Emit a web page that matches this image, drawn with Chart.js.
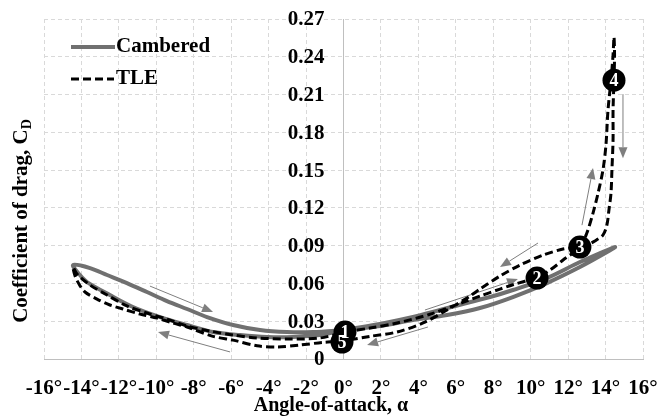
<!DOCTYPE html>
<html>
<head>
<meta charset="utf-8">
<script src="https://cdn.jsdelivr.net/npm/chart.js@4.4.1/dist/chart.umd.min.js"></script>
<style>
  html, body { margin: 0; padding: 0; background: #fff; }
</style>
</head>
<body>
<canvas id="chart" width="659" height="417"></canvas>
<script>
// axis ticks
const xTicks = [-16, -14, -12, -10, -8, -6, -4, -2, 0, 2, 4, 6, 8, 10, 12, 14, 16];
const yTicks = [0, 0.03, 0.06, 0.09, 0.12, 0.15, 0.18, 0.21, 0.24, 0.27];

// Cambered loop: 0 -> +14.5 -> 0 -> -14.5 -> 0
const camberedAlpha = [0.08, 1.95, 3.71, 5.53, 7.29, 9.05, 10.87, 12.63, 14.08, 14.5,
  12.63, 10.87, 9.05, 7.83, 6.38, 5.15, 3.71, 1.95, 0.08,
  -1.28, -2.70, -4.09, -5.53, -6.97, -8.36, -9.80, -11.25, -12.48, -13.70, -14.08, -14.45,
  -13.54, -12.63, -11.57, -10.50, -9.43, -8.36, -7.29, -5.90, -4.46, -3.02, -1.63, 0.08];
const camberedCd = [0.023, 0.0262, 0.031, 0.0349, 0.0405, 0.0492, 0.0603, 0.073, 0.0849, 0.0889,
  0.077, 0.0643, 0.0548, 0.0492, 0.0437, 0.0389, 0.0333, 0.0278, 0.023,
  0.019, 0.0175, 0.0175, 0.019, 0.0214, 0.027, 0.0333, 0.0413, 0.0508, 0.0611, 0.0667, 0.0746,
  0.0722, 0.0667, 0.0603, 0.0532, 0.046, 0.0397, 0.0333, 0.027, 0.023, 0.0214, 0.0214, 0.023];

// TLE loop, same order
const tleAlpha = [0.08, 1.42, 2.86, 4.62, 6.38, 7.29, 8.36, 9.05, 10.34, 11.03, 11.73, 12.63,
  13.0, 13.33, 13.6, 13.86, 14.02, 14.13, 14.29, 14.4, 14.45,
  14.48, 14.45, 14.4, 14.4, 14.34, 14.29, 14.18, 14.07, 13.86, 13.43, 13.0, 12.63,
  11.73, 10.66, 9.43, 8.36, 7.29, 6.76, 5.53, 4.25, 2.86, 1.42, -0.08,
  -1.10, -2.32, -3.55, -4.62, -5.90, -6.97, -8.36, -9.11, -9.96, -10.87, -11.78, -12.48, -13.17, -13.81, -14.13, -14.34, -14.45,
  -14.24, -13.54, -12.63, -11.57, -10.50, -9.43, -8.36, -7.13, -5.90, -4.62, -2.86, -1.26, 0.08];
const tleCd = [0.0214, 0.0246, 0.0286, 0.0355, 0.045, 0.050, 0.0555, 0.059, 0.0648, 0.0706, 0.0786, 0.0889,
  0.1, 0.1159, 0.1317, 0.15, 0.1698, 0.1976, 0.2214, 0.2413, 0.2556,
  0.2413, 0.2214, 0.1976, 0.1738, 0.15, 0.1317, 0.1183, 0.1063, 0.0984, 0.0937, 0.0905, 0.0889,
  0.0873, 0.0825, 0.0746, 0.0659, 0.0556, 0.050, 0.0389, 0.0286, 0.0214, 0.018, 0.0143,
  0.0132, 0.0111, 0.0095, 0.0105, 0.015, 0.018, 0.0254, 0.0286, 0.0325, 0.0357, 0.0397, 0.0429, 0.0476, 0.0532, 0.0595, 0.0659, 0.073,
  0.0675, 0.0587, 0.0508, 0.0421, 0.0365, 0.0317, 0.0262, 0.0222, 0.019, 0.0167, 0.0159, 0.0167, 0.0214];

// numbered stations
const stationAlpha = [0.08, 10.34, 12.63, 14.45, -0.08];
const stationCd = [0.0214, 0.0643, 0.0889, 0.2214, 0.0135];
const stationLabels = ['1', '2', '3', '4', '5'];

// direction arrows (tail -> head)
const arrowTailAlpha = [-10.34, -6.06, 4.35, 4.51, 10.39, 12.74, 14.93];
const arrowTailCd = [0.0579, 0.0056, 0.0389, 0.0254, 0.0921, 0.1063, 0.2103];
const arrowHeadAlpha = [-6.97, -9.91, 9.32, 1.26, 8.36, 13.33, 14.93];
const arrowHeadCd = [0.0373, 0.0214, 0.0635, 0.0111, 0.073, 0.1516, 0.1595];

const SERIF = "'Liberation Serif', 'Times New Roman', serif";
const GRAY = '#707070';

const toPoints = (xs, ys) => xs.map((x, i) => ({ x: x, y: ys[i] }));

const extras = {
  id: 'extras',
  beforeDatasetsDraw(chart) {
    const { ctx, scales: { x, y } } = chart;
    ctx.save();
    // y tick labels, left of the alpha = 0 axis
    ctx.fillStyle = '#000';
    ctx.font = 'bold 21px ' + SERIF;
    ctx.textAlign = 'right';
    ctx.textBaseline = 'middle';
    const x0 = x.getPixelForValue(0) - 19;
    yTicks.forEach(v => {
      ctx.fillText(v === 0 ? '0' : v.toFixed(2), x0, y.getPixelForValue(v) + 1);
    });

    // arrows
    ctx.strokeStyle = '#7f7f7f';
    ctx.fillStyle = '#7f7f7f';
    ctx.lineWidth = 1;
    arrowTailAlpha.forEach((a, i) => {
      const xa = x.getPixelForValue(a), ya = y.getPixelForValue(arrowTailCd[i]);
      const xb = x.getPixelForValue(arrowHeadAlpha[i]), yb = y.getPixelForValue(arrowHeadCd[i]);
      const ang = Math.atan2(yb - ya, xb - xa);
      const len = 11, half = 4.5;
      const bx = xb - len * Math.cos(ang), by = yb - len * Math.sin(ang);
      ctx.beginPath();
      ctx.moveTo(xa, ya);
      ctx.lineTo(bx, by);
      ctx.stroke();
      ctx.beginPath();
      ctx.moveTo(xb, yb);
      ctx.lineTo(bx + half * Math.sin(ang), by - half * Math.cos(ang));
      ctx.lineTo(bx - half * Math.sin(ang), by + half * Math.cos(ang));
      ctx.closePath();
      ctx.fill();
    });
    ctx.restore();
  },
  afterDatasetsDraw(chart) {
    const { ctx, scales: { x, y } } = chart;
    ctx.save();
    ctx.fillStyle = '#fff';
    ctx.font = 'bold 18px ' + SERIF;
    ctx.textAlign = 'center';
    ctx.textBaseline = 'middle';
    stationLabels.forEach((t, i) => {
      ctx.fillText(t, x.getPixelForValue(stationAlpha[i]), y.getPixelForValue(stationCd[i]) + 1);
    });
    ctx.restore();
  },
  afterDraw(chart) {
    const { ctx } = chart;
    ctx.save();
    // legend
    ctx.lineCap = 'butt';
    ctx.strokeStyle = GRAY;
    ctx.lineWidth = 4;
    ctx.beginPath(); ctx.moveTo(71, 47); ctx.lineTo(115, 47); ctx.stroke();
    ctx.strokeStyle = '#000';
    ctx.lineWidth = 3;
    ctx.setLineDash([8, 4]);
    ctx.beginPath(); ctx.moveTo(71, 79); ctx.lineTo(114, 79); ctx.stroke();
    ctx.setLineDash([]);
    ctx.fillStyle = '#000';
    ctx.font = 'bold 21px ' + SERIF;
    ctx.textAlign = 'left';
    ctx.textBaseline = 'middle';
    ctx.fillText('Cambered', 116, 47);
    ctx.fillText('TLE', 116, 79);

    // x title
    ctx.font = 'bold 20px ' + SERIF;
    ctx.textAlign = 'center';
    ctx.textBaseline = 'alphabetic';
    ctx.fillText('Angle-of-attack, α', 331, 411);

    // y title with subscript
    ctx.translate(27, 221);
    ctx.rotate(-Math.PI / 2);
    const main = 'Coefficient of drag, C';
    ctx.font = 'bold 21px ' + SERIF;
    const wMain = ctx.measureText(main).width;
    ctx.font = 'bold 14px ' + SERIF;
    const wSub = ctx.measureText('D').width;
    const start = -(wMain + wSub) / 2;
    ctx.textAlign = 'left';
    ctx.font = 'bold 21px ' + SERIF;
    ctx.fillText(main, start, 0);
    ctx.font = 'bold 14px ' + SERIF;
    ctx.fillText('D', start + wMain, 4);
    ctx.restore();
  }
};

new Chart(document.getElementById('chart'), {
  type: 'scatter',
  data: {
    datasets: [
      {
        label: 'stations',
        data: toPoints(stationAlpha, stationCd),
        showLine: false,
        pointRadius: 11.5,
        pointHoverRadius: 11.5,
        pointBackgroundColor: '#000',
        pointBorderColor: '#000',
        pointBorderWidth: 0
      },
      {
        label: 'TLE',
        data: toPoints(tleAlpha, tleCd),
        showLine: true,
        borderColor: '#000',
        borderWidth: 3,
        borderDash: [8, 4],
        pointRadius: 0,
        tension: 0.3,
        fill: false
      },
      {
        label: 'Cambered',
        data: toPoints(camberedAlpha, camberedCd),
        showLine: true,
        borderColor: GRAY,
        borderWidth: 4,
        pointRadius: 0,
        tension: 0.3,
        fill: false
      }
    ]
  },
  options: {
    responsive: false,
    animation: false,
    events: [],
    layout: { padding: { left: 44, right: 16, top: 19, bottom: 0 } },
    plugins: {
      legend: { display: false },
      tooltip: { enabled: false }
    },
    scales: {
      x: {
        type: 'linear',
        position: 'bottom',
        min: -16,
        max: 16,
        afterBuildTicks: s => { s.ticks = xTicks.map(v => ({ value: v })); },
        afterFit: s => { s.height = 58; s.paddingLeft = 0; s.paddingRight = 0; },
        ticks: {
          color: '#000',
          padding: 17,
          maxRotation: 0,
          autoSkip: false,
          font: { family: SERIF, size: 21, weight: 'bold' },
          callback: v => v + '°'
        },
        grid: { color: '#d9d9d9', drawTicks: false },
        border: { display: true, color: '#bfbfbf', dash: [4, 3] }
      },
      y: {
        type: 'linear',
        position: { x: 0 },
        min: 0,
        max: 0.27,
        afterBuildTicks: s => { s.ticks = yTicks.map(v => ({ value: v })); },
        afterFit: s => { s.width = 0; },
        ticks: { display: false },
        grid: { color: '#d9d9d9', drawTicks: false },
        border: { display: true, color: '#bfbfbf', dash: [4, 3] }
      }
    }
  },
  plugins: [extras]
});
</script>
</body>
</html>
